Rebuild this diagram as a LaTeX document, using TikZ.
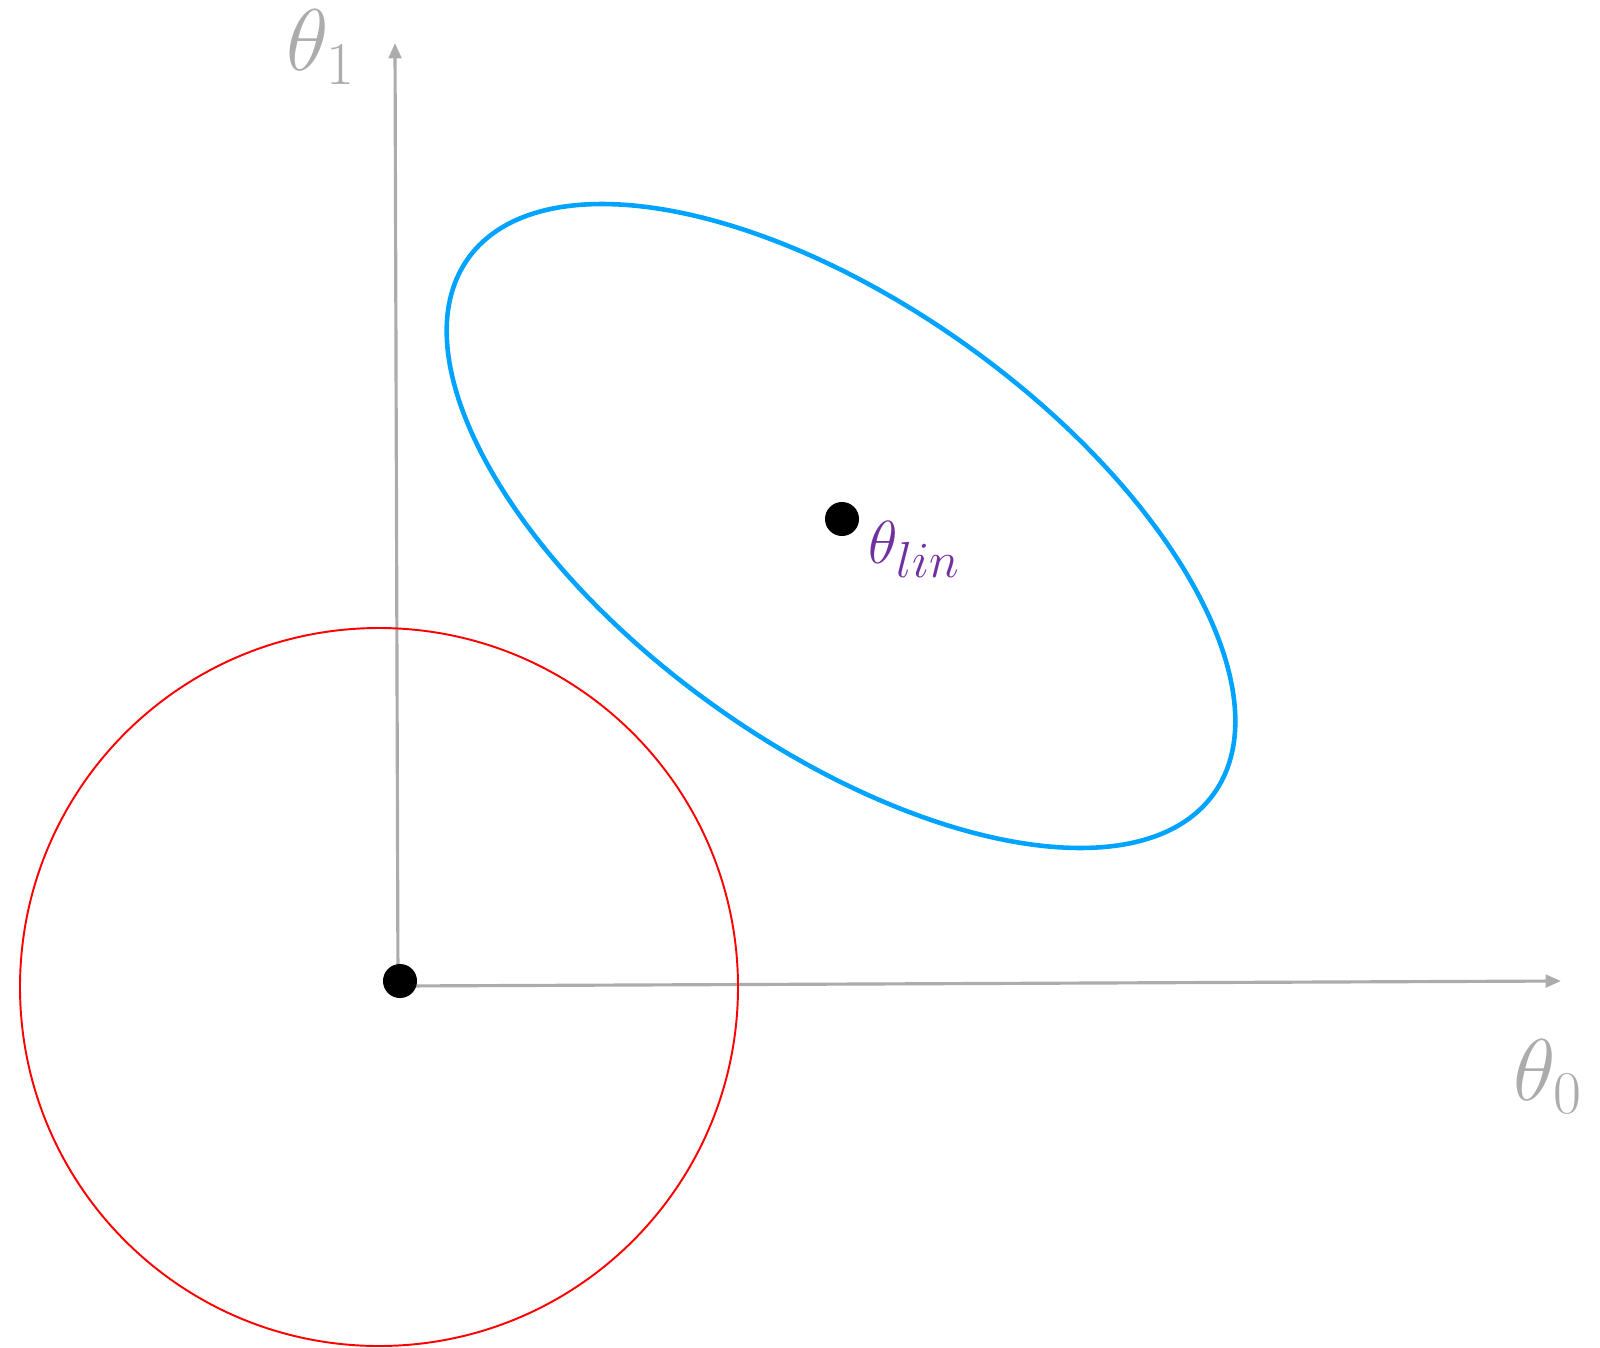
\documentclass[tikz,border=0pt]{standalone}
\usepackage{amsmath,amssymb}
\usepackage{xcolor}
\usepackage{tikz}
\usetikzlibrary{arrows.meta,positioning}

\definecolor{axisgray}{RGB}{172,172,172}
\definecolor{ellblue}{RGB}{0,164,255}
\definecolor{linpurple}{RGB}{112,48,160}

\begin{document}
\begin{tikzpicture}[
  x=0.01cm,y=0.01cm,
  >={Triangle[length=4.4pt,width=3.6pt]},
  axis/.style={draw=axisgray,line width=0.9pt,->},
  axlabel/.style={text=axisgray,inner sep=0pt,anchor=base west,
                  font=\fontsize{24}{28}\selectfont},
  dot/.style={circle,fill=black,inner sep=0pt,minimum size=0.34cm},
  linlabel/.style={text=linpurple,inner sep=0pt,anchor=base west,
                   font=\fontsize{19}{23}\selectfont}
]
\useasboundingbox (0,0) rectangle (1600,1347);

% ---- Axes ----
\coordinate (orig) at (398,361);
\coordinate (ytip) at (395,1304);
\coordinate (xtip) at (1561,366);
\draw[axis] (orig) -- (ytip);
\draw[axis] (orig) -- (xtip);

% ---- Constraint circle ----
\draw[red,line width=0.55pt] (379,360) circle[radius=359];

% ---- Cost contour ----
\draw[ellblue,line width=1.3pt,rotate around={-35.7:(841,821)}]
  (841,821) ellipse[x radius=459,y radius=220];

% ---- Points ----
\node[dot] (o)   at (400,366) {};
\node[dot] (lin) at (842,828) {};

% ---- Labels ----
\node[axlabel] (t1) at (286,1276) {$\theta_1$};
\node[axlabel] (t0) at (1513,247) {$\theta_0$};
\node[linlabel] (tlin) at (868,784) {$\theta_{lin}$};

\end{tikzpicture}
\end{document}
